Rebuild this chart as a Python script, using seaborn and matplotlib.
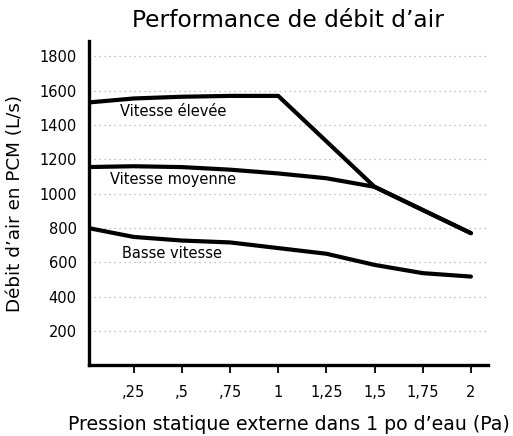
import matplotlib
matplotlib.use("Agg")
import matplotlib.pyplot as plt
import seaborn as sns
import pandas as pd

# Static pressure (inches of water) and airflow per fan speed (CFM)
pressure = [0.0, 0.25, 0.5, 0.75, 1.0, 1.25, 1.5, 1.75, 2.0]
high_speed = [1530, 1555, 1565, 1570, 1570, 1305, 1040, 905, 770]
medium_speed = [1155, 1160, 1155, 1140, 1118, 1090, 1040, 905, 770]
low_speed = [803, 748, 727, 716, 683, 650, 585, 537, 517]

series_names = ["Vitesse élevée", "Vitesse moyenne", "Basse vitesse"]
x_tick_values = [0.25, 0.5, 0.75, 1.0, 1.25, 1.5, 1.75, 2.0]
x_tick_labels = [",25", ",5", ",75", "1", "1,25", "1,5", "1,75", "2"]
y_tick_values = [200, 400, 600, 800, 1000, 1200, 1400, 1600, 1800]

df = pd.concat([
    pd.DataFrame({"x": pressure, "y": vals, "serie": name})
    for name, vals in zip(series_names, [high_speed, medium_speed, low_speed])
])

sns.set_style("white")
plt.rcParams["font.family"] = ["DejaVu Sans"]
plt.rcParams["text.color"] = "black"
plt.rcParams["axes.labelcolor"] = "black"
plt.rcParams["xtick.color"] = "black"
plt.rcParams["ytick.color"] = "black"

fig = plt.figure(figsize=(5.13, 4.36), dpi=100)
ax = fig.add_axes([0.1735, 0.1622, 0.7775, 0.7438])

sns.lineplot(data=df, x="x", y="y", units="serie", estimator=None,
             color="black", linewidth=3.0, ax=ax, legend=False,
             solid_capstyle="round", solid_joinstyle="round", sort=False)

ax.set_xlim(0.018, 2.088)
ax.set_ylim(0, 1890)

ax.set_yticks(y_tick_values)
ax.set_yticklabels([str(v) for v in y_tick_values], fontsize=10.5)
ax.set_xticks(x_tick_values)
ax.set_xticklabels(x_tick_labels, fontsize=10.5)

ax.tick_params(axis="x", direction="out", length=6, width=1.3,
               pad=8, bottom=True)
ax.tick_params(axis="y", length=0, pad=9)

ax.yaxis.grid(True, linestyle=(0, (1, 3)), color="#b0b0b0", linewidth=0.9)
ax.xaxis.grid(False)

for side in ["top", "right"]:
    ax.spines[side].set_visible(False)
for side in ["left", "bottom"]:
    ax.spines[side].set_linewidth(2.4)
    ax.spines[side].set_color("black")

# Curve labels
ax.text(0.18, 1480, "Vitesse élevée", fontsize=10.5, va="center", ha="left")
ax.text(0.125, 1082, "Vitesse moyenne", fontsize=10.5, va="center", ha="left")
ax.text(0.187, 650, "Basse vitesse", fontsize=10.5, va="center", ha="left")

ax.set_title("Performance de débit d’air", fontsize=16.8, pad=10)
ax.set_xlabel("Pression statique externe dans 1 po d’eau (Pa)", fontsize=13.6, labelpad=11)
ax.set_ylabel("Débit d’air en PCM (L/s)", fontsize=13.2, labelpad=11)

fig.savefig("out.png", dpi=100)
